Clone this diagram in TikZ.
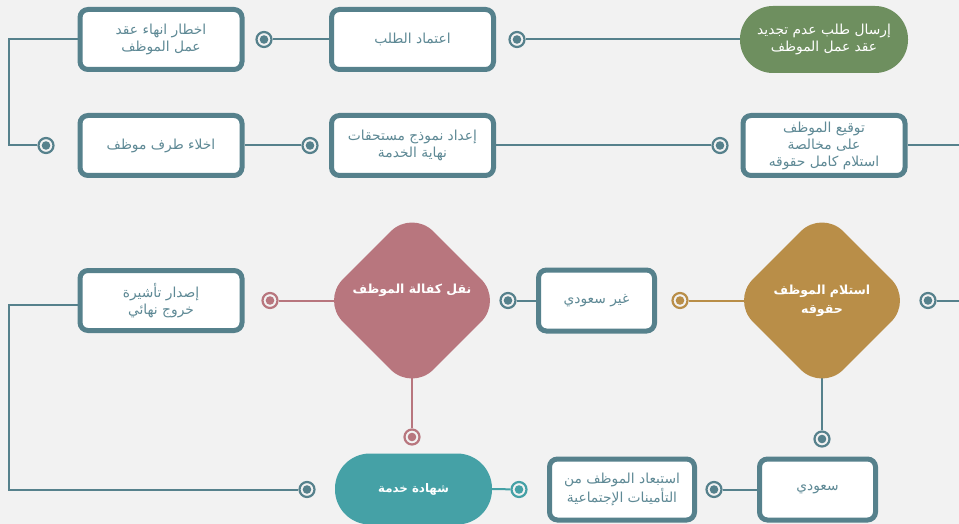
\documentclass[tikz,border=0pt]{standalone}
\usepackage{fontspec}
\newfontfamily\arabicfont[Script=Arabic]{DejaVu Sans}
\TeXXeTstate=1
\usetikzlibrary{shapes.geometric}

\definecolor{paper}{HTML}{F2F2F2}
\definecolor{steel}{HTML}{56818C}
\definecolor{steeltext}{HTML}{5E8995}
\definecolor{sage}{HTML}{6E8F5F}
\definecolor{ochre}{HTML}{B98E48}
\definecolor{rose}{HTML}{B8767E}
\definecolor{lagoon}{HTML}{45A1A6}

\pgfdeclarelayer{back}
\pgfdeclarelayer{wires}
\pgfsetlayers{back,wires,main}

\tikzset{
  card/.style={draw=steel, line width=5pt, fill=white, rounded corners=8pt,
    minimum width=162pt, minimum height=60pt, inner sep=0pt, align=center,
    text=steeltext, font=\arabicfont\fontsize{13.8}{17}\selectfont},
  pill/.style={rounded corners=33pt, inner sep=0pt, align=center, text=white,
    font=\arabicfont\fontsize{13.8}{17}\selectfont},
  gem/.style={diamond, minimum width=181pt, minimum height=181pt, inner sep=0pt,
    rounded corners=30pt},
  gemtext/.style={align=center, text=white, inner sep=0pt,
    font=\arabicfont\bfseries\fontsize{12.5}{19}\selectfont},
  dot/.style={circle, draw=#1, line width=2.2pt, fill=paper, minimum size=15pt,
    inner sep=0pt, path picture={\fill[#1] (path picture bounding box.center) circle (4.3pt);}},
  dot/.default=steel,
  wire/.style={line width=2pt, draw=#1},
  wire/.default=steel,
}

\begin{document}
\begin{tikzpicture}[x=1pt,y=-1pt]
\begin{pgfonlayer}{back}
  \fill[paper] (0,0) rectangle (959,524);
\end{pgfonlayer}
\useasboundingbox (0,0) rectangle (959,524);

% first row
\node[card] (notice) at (161,39.5) {\beginR اخطار انهاء عقد\endR\\\beginR عمل الموظف\endR};
\node[card] (approve) at (412.5,39.5) {\beginR اعتماد الطلب\endR};
\node[pill, fill=sage, minimum width=168pt, minimum height=67pt] (request) at (824,39.5)
  {\beginR إرسال طلب عدم تجديد\endR\\\beginR عقد عمل الموظف\endR};

% second row
\node[card] (clearance) at (161,145.5) {\beginR اخلاء طرف موظف\endR};
\node[card] (eosform) at (412.5,145.5) {\beginR إعداد نموذج مستحقات\endR\\\beginR نهاية الخدمة\endR};
\node[card] (settle) at (824,145.5)
  {\beginR توقيع الموظف\endR\\\beginR على مخالصة\endR\\\beginR استلام كامل حقوقه\endR};

% third row
\node[card] (exitvisa) at (161,300.5) {\beginR إصدار تأشيرة\endR\\\beginR خروج نهائي\endR};
\node[card, minimum width=116pt, minimum height=61pt] (nonsaudi) at (596.5,300.5) {\beginR غير سعودي\endR};
\node[gem, fill=rose] (transfer) at (412,300.5) {};
\node[gemtext] (transfertext) at (412,290) {\beginR نقل كفالة الموظف\endR};
\node[gem, fill=ochre] (dues) at (822,300.5) {};
\node[gemtext] (duestext) at (822,300.5) {\beginR استلام الموظف\endR\\\beginR حقوقه\endR};

% fourth row
\node[pill, fill=lagoon, minimum width=157pt, minimum height=71pt, rounded corners=35pt,
  font=\arabicfont\bfseries\fontsize{11.8}{14}\selectfont] (certificate) at (413.5,489) {\beginR شهادة خدمة\endR};
\node[card, minimum width=145pt, minimum height=61pt] (gosi) at (622,489.5)
  {\beginR استبعاد الموظف من\endR\\\beginR التأمينات الإجتماعية\endR};
\node[card, minimum width=116pt, minimum height=61pt] (saudi) at (817.5,489.5) {\beginR سعودي\endR};

% connector end markers
\node[dot] (m1) at (264,39.5) {};
\node[dot] (m2) at (517,39.5) {};
\node[dot] (m3) at (46,145.5) {};
\node[dot] (m4) at (310,145.5) {};
\node[dot] (m5) at (720,145.5) {};
\node[dot] (m6) at (928,300.5) {};
\node[dot=ochre] (m7) at (680,300.5) {};
\node[dot] (m8) at (508,300.5) {};
\node[dot=rose] (m9) at (270,300.5) {};
\node[dot=rose] (m10) at (412,437) {};
\node[dot] (m11) at (822,439) {};
\node[dot] (m12) at (714,489.5) {};
\node[dot=lagoon] (m13) at (519,489.5) {};
\node[dot] (m14) at (307,489.5) {};

% rail corners and open ends
\coordinate (railA) at (9,39.5);
\coordinate (railB) at (9,305);
\coordinate (exitA) at (962,145.5);
\coordinate (exitB) at (962,300.5);

\begin{pgfonlayer}{wires}
  \draw[wire] (approve.west) -- (m1);
  \draw[wire] (request.west) -- (m2);
  \draw[wire] (notice.west) -- (railA) |- (m3);
  \draw[wire] (clearance.east) -- (m4);
  \draw[wire] (eosform.east) -- (m5);
  \draw[wire] (settle.east) -- (exitA);
  \draw[wire] (m6) -- (exitB);
  \draw[wire=ochre] (dues.center) -- (m7);
  \draw[wire] (dues.center) -- (m11);
  \draw[wire] (nonsaudi.west) -- (m8);
  \draw[wire=rose] (transfer.center) -- (m9);
  \draw[wire=rose] (transfer.center) -- (m10);
  \draw[wire] (exitvisa.west |- railB) -- (railB) |- (m14);
  \draw[wire] (saudi.west) -- (m12);
  \draw[wire=lagoon] (certificate.east) -- (m13);
\end{pgfonlayer}
\end{tikzpicture}
\end{document}
